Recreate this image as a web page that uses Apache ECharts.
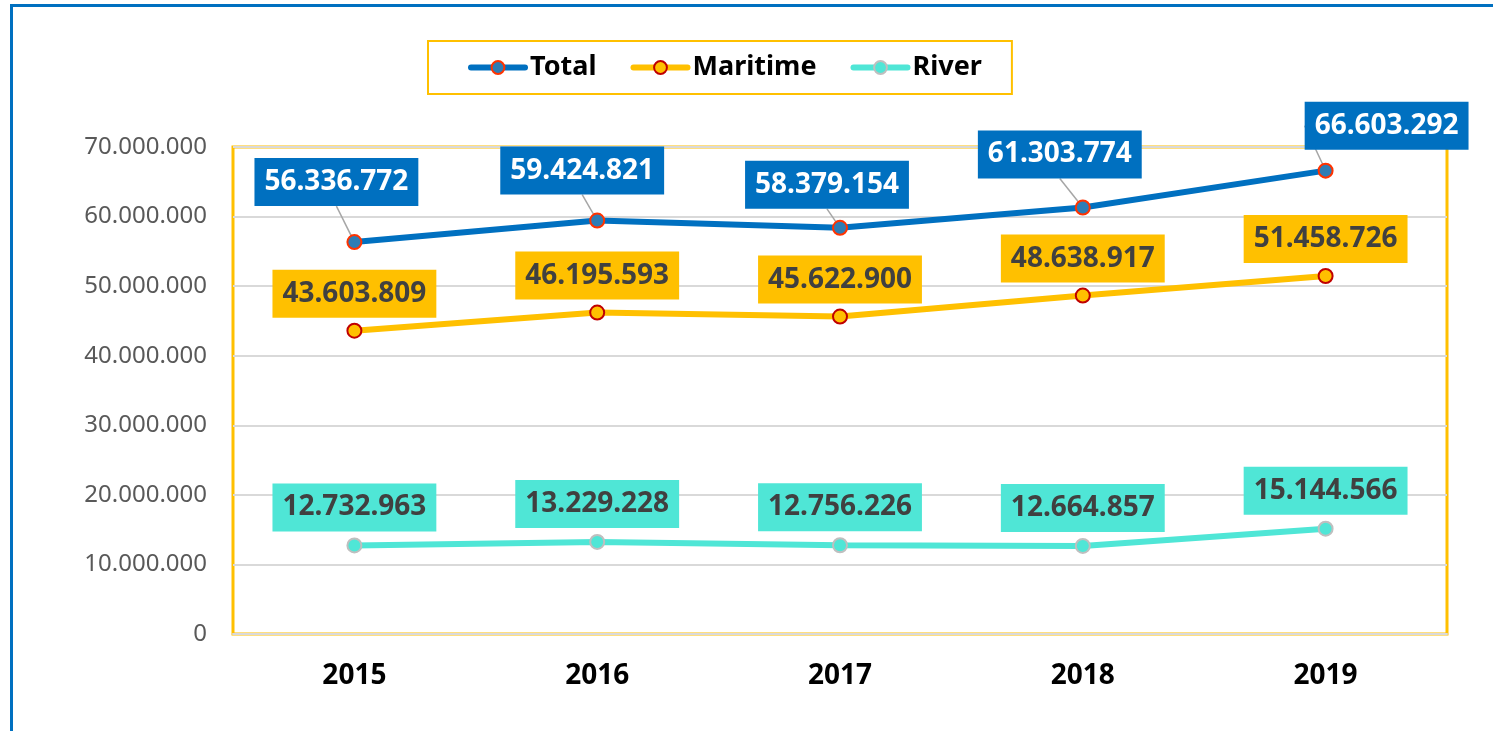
<!DOCTYPE html>
<html>
<head>
<meta charset="utf-8">
<title>Total / Maritime / River</title>
<script src="https://cdn.jsdelivr.net/npm/echarts@6/dist/echarts.min.js"></script>
<style>
  html, body { margin: 0; padding: 0; background: #fff; overflow: hidden; }
  #frame { position: absolute; left: 10px; top: 4px; width: 2000px; height: 2000px; border: 3px solid #0070C0; }
  #chart { position: absolute; left: 0; top: 0; width: 1493px; height: 731px; }
</style>
</head>
<body>
<div id="frame"></div>
<div id="chart"></div>
<script>
const years = ['2015', '2016', '2017', '2018', '2019']
const total = [56336772, 59424821, 58379154, 61303774, 66603292]
const maritime = [43603809, 46195593, 45622900, 48638917, 51458726]
const river = [12732963, 13229228, 12756226, 12664857, 15144566]

// nudges for the Total labels (pixels)
const totalDx = [-18, -15, -13, -23, 61]
const totalDy = [-18, -8, -1, -11, -3]

const FONT = '"Noto Sans", sans-serif'
const fmt = v => String(v).replace(/\B(?=(\d{3})+(?!\d))/g, '.')

const labelBase = {
  show: true,
  position: 'top',
  distance: 5,
  fontFamily: FONT,
  fontSize: 28,
  fontWeight: 'bold',
  lineHeight: 32,
  padding: [8, 10, 8, 10],
  formatter: p => fmt(p.value),
}

const chart = echarts.init(document.getElementById('chart'))

chart.setOption({
  animation: false,
  legend: {
    left: 428,
    top: 41,
    padding: [13, 30, 13, 40],
    borderColor: '#FFC000',
    borderWidth: 2,
    itemGap: 34,
    itemWidth: 54,
    itemHeight: 16,
    lineStyle: { width: 6, cap: 'round' },
    textStyle: { fontFamily: FONT, fontSize: 27, fontWeight: 'bold', color: '#000' },
    data: ['Total', 'Maritime', 'River'],
  },
  grid: {
    left: 233,
    right: 46,
    top: 147,
    bottom: 97,
    show: true,
    borderColor: '#FFC000',
    borderWidth: 3,
  },
  xAxis: {
    type: 'category',
    data: years,
    boundaryGap: true,
    axisLine: { lineStyle: { color: '#D9D9D9', width: 2 } },
    axisTick: { show: false },
    axisLabel: { margin: 28, fontFamily: FONT, fontSize: 28, fontWeight: 'bold', color: '#000' },
  },
  yAxis: {
    type: 'value',
    min: 0,
    max: 70000000,
    interval: 10000000,
    axisLine: { show: false },
    axisTick: { show: false },
    splitLine: { lineStyle: { color: '#D9D9D9', width: 2 } },
    axisLabel: { margin: 26, fontFamily: FONT, fontSize: 24, color: '#595959', formatter: fmt },
  },
  series: [
    {
      name: 'Total',
      type: 'line',
      data: total,
      z: 3,
      symbol: 'circle',
      symbolSize: 14,
      lineStyle: { color: '#0070C0', width: 6 },
      itemStyle: { color: '#2E7DB5', borderColor: '#FF3300', borderWidth: 2 },
      label: { ...labelBase, distance: 10, color: '#fff', backgroundColor: '#0070C0' },
      labelLine: { show: true, lineStyle: { color: '#A6A6A6', width: 1.5 } },
      labelLayout: p => ({ dx: totalDx[p.dataIndex], dy: totalDy[p.dataIndex] }),
    },
    {
      name: 'Maritime',
      type: 'line',
      data: maritime,
      symbol: 'circle',
      symbolSize: 14,
      lineStyle: { color: '#FFC000', width: 6 },
      itemStyle: { color: '#FFC000', borderColor: '#C00000', borderWidth: 2 },
      label: { ...labelBase, color: '#404040', backgroundColor: '#FFC000' },
    },
    {
      name: 'River',
      type: 'line',
      data: river,
      symbol: 'circle',
      symbolSize: 14,
      lineStyle: { color: '#4FE6D6', width: 6 },
      itemStyle: { color: '#4FE6D6', borderColor: '#BFBFBF', borderWidth: 2 },
      label: { ...labelBase, distance: 6, color: '#404040', backgroundColor: '#4FE6D6' },
    },
  ],
})

window.addEventListener('resize', () => {
  chart.resize()
})
</script>
</body>
</html>
